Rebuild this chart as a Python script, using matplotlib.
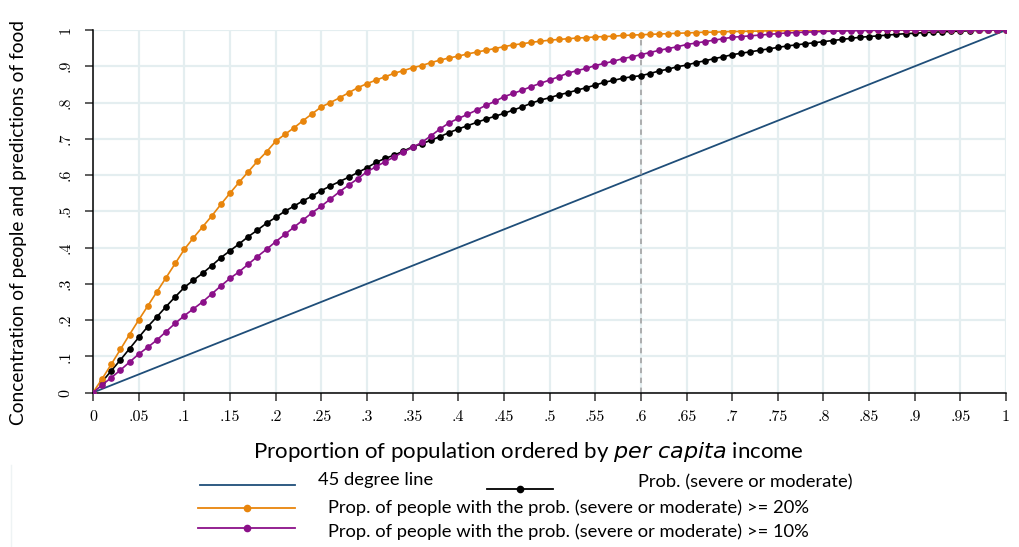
import numpy as np
import matplotlib.pyplot as plt
from matplotlib.lines import Line2D

# Udział populacji (oś x) co 0.01
x = np.round(np.arange(0, 1.001, 0.01), 2)

# Krzywa: odsetek osób z prawdopodobieństwem >= 20%
prop_20 = [0.0, 0.038, 0.078, 0.119, 0.160, 0.200, 0.239, 0.278, 0.317, 0.356,
           0.395, 0.427, 0.457, 0.487, 0.519, 0.550, 0.580, 0.609, 0.638, 0.664,
           0.693, 0.712, 0.730, 0.750, 0.769, 0.788, 0.800, 0.813, 0.827, 0.841,
           0.852, 0.862, 0.871, 0.881, 0.888, 0.896, 0.902, 0.910, 0.917, 0.923,
           0.928, 0.934, 0.939, 0.944, 0.949, 0.954, 0.959, 0.962, 0.966, 0.969,
           0.972, 0.974, 0.976, 0.978, 0.979, 0.981, 0.982, 0.983, 0.985, 0.986,
           0.987, 0.988, 0.989, 0.990, 0.991, 0.992, 0.993, 0.994, 0.994, 0.995,
           0.996, 0.996, 0.997, 0.997, 0.998, 0.998, 0.998, 0.999, 0.999, 0.999,
           1.0, 1.0, 1.0, 1.0, 1.0, 1.0, 1.0, 1.0, 1.0, 1.0,
           1.0, 1.0, 1.0, 1.0, 1.0, 1.0, 1.0, 1.0, 1.0, 1.0, 1.0]

# Krzywa: prawdopodobieństwo (ciężkie lub umiarkowane), od x = 0.01
prob = [0.030, 0.060, 0.090, 0.121, 0.152, 0.182, 0.209, 0.237, 0.264,
        0.290, 0.310, 0.329, 0.350, 0.372, 0.391, 0.410, 0.430, 0.448, 0.467,
        0.483, 0.500, 0.514, 0.529, 0.542, 0.557, 0.570, 0.582, 0.594, 0.607,
        0.620, 0.635, 0.646, 0.655, 0.666, 0.678, 0.686, 0.696, 0.706, 0.717,
        0.727, 0.736, 0.745, 0.754, 0.762, 0.770, 0.779, 0.788, 0.798, 0.807,
        0.813, 0.821, 0.827, 0.834, 0.841, 0.848, 0.856, 0.861, 0.867, 0.871,
        0.874, 0.880, 0.887, 0.892, 0.899, 0.903, 0.910, 0.915, 0.921, 0.926,
        0.932, 0.936, 0.940, 0.944, 0.948, 0.952, 0.956, 0.959, 0.962, 0.965,
        0.968, 0.971, 0.974, 0.977, 0.980, 0.982, 0.984, 0.986, 0.988, 0.990,
        0.991, 0.993, 0.994, 0.995, 0.996, 0.997, 0.998, 0.999, 0.999, 1.0, 1.0]

# Krzywa: odsetek osób z prawdopodobieństwem >= 10%
prop_10 = [0.0, 0.021, 0.041, 0.062, 0.084, 0.106, 0.125, 0.145, 0.168, 0.191,
           0.212, 0.231, 0.250, 0.272, 0.294, 0.315, 0.333, 0.354, 0.375, 0.395,
           0.416, 0.436, 0.456, 0.476, 0.496, 0.514, 0.534, 0.554, 0.572, 0.590,
           0.609, 0.623, 0.637, 0.650, 0.664, 0.676, 0.690, 0.708, 0.727, 0.744,
           0.756, 0.767, 0.779, 0.792, 0.803, 0.816, 0.825, 0.834, 0.844, 0.853,
           0.862, 0.871, 0.881, 0.888, 0.894, 0.902, 0.908, 0.914, 0.921, 0.926,
           0.932, 0.938, 0.944, 0.949, 0.954, 0.960, 0.964, 0.968, 0.972, 0.976,
           0.980, 0.982, 0.984, 0.986, 0.988, 0.990, 0.992, 0.993, 0.994, 0.995,
           0.996, 0.997, 0.997, 0.998, 0.998, 0.999, 0.999, 1.0, 1.0, 1.0,
           1.0, 1.0, 1.0, 1.0, 1.0, 1.0, 1.0, 1.0, 1.0, 1.0, 1.0]

x_ticks = np.round(np.arange(0, 1.001, 0.05), 2)
x_tick_labels = ['0', '.05', '.1', '.15', '.2', '.25', '.3', '.35', '.4', '.45', '.5',
                 '.55', '.6', '.65', '.7', '.75', '.8', '.85', '.9', '.95', '1']
y_ticks = np.round(np.arange(0, 1.001, 0.1), 1)
y_tick_labels = ['0', '.1', '.2', '.3', '.4', '.5', '.6', '.7', '.8', '.9', '1']
cut_x = 0.6

legend_labels = ['45 degree line', 'Prob. (severe or moderate)',
                 'Prop. of people with the prob. (severe or moderate) >= 20%',
                 'Prop. of people with the prob. (severe or moderate) >= 10%']

c_blue = '#1f4e79'
c_black = '#000000'
c_orange = '#e8850c'
c_purple = '#8b1089'
c_grid = '#e4eef0'

fig = plt.figure(figsize=(10.19, 5.47), dpi=100)
ax = fig.add_axes([0.0913, 0.2824, 0.896, 0.6627])

ax.set_xlim(0, 1)
ax.set_ylim(0, 1)
ax.set_xticks(x_ticks)
ax.set_yticks(y_ticks)
ax.grid(True, color=c_grid, linewidth=1.6, zorder=0)
ax.set_axisbelow(True)
for s in ['top', 'right']:
    ax.spines[s].set_visible(False)
for s in ['left', 'bottom']:
    ax.spines[s].set_linewidth(1.1)
ax.tick_params(direction='out', length=6, width=1.1, color='#333333')

ax.set_xticklabels(x_tick_labels, fontfamily='cmr10', fontsize=11.5)
ax.set_yticklabels(y_tick_labels, fontfamily='cmr10', fontsize=11.5, rotation=90, va='center')
ax.tick_params(axis='x', pad=7)
ax.tick_params(axis='y', pad=9)

# linia 45 stopni i pionowa linia odcięcia
ax.plot([0, 1], [0, 1], color=c_blue, linewidth=1.3, zorder=2)
ax.plot([cut_x, cut_x], [0, prop_20[int(cut_x * 100)]], color='#a8a8a8',
        linestyle=(0, (3, 2.5)), linewidth=1.3, zorder=2)

mk = dict(marker='o', markersize=3.8, linewidth=1.2)
ax.plot(x[1:], prob, color=c_black, zorder=3, **mk)
ax.plot(x, prop_20, color=c_orange, zorder=4, **mk)
ax.plot(x, prop_10, color=c_purple, zorder=5, **mk)

ax.set_ylabel('Concentration of people and predictions of food', fontfamily='Lato',
              fontsize=13.8)
ax.yaxis.set_label_coords(-0.072, 0.47)
ax.set_xlabel('Proportion of population ordered by $\\it{per\\ capita}$ income',
              fontfamily='Lato', fontsize=16)
ax.xaxis.set_label_coords(0.477, -0.13)

# legenda rysowana ręcznie pod wykresem
def px(xp, yp):
    return xp / 1019, 1 - yp / 547

def leg_line(x0, x1, y, color, marker):
    (a, b), (c, _) = px(x0, y), px(x1, y)
    fig.add_artist(Line2D([a, c], [b, b], color=color, linewidth=1.3))
    if marker:
        m = px((x0 + x1) / 2, y)
        fig.add_artist(Line2D([m[0]], [m[1]], color=color, marker='o', markersize=4.5))

leg_font = dict(fontfamily='Lato', fontsize=13.2, va='center', ha='left')
leg_line(200, 295, 485, c_blue, False)
fig.text(*px(318, 480), legend_labels[0], **leg_font)
leg_line(487, 553, 489, c_black, True)
fig.text(*px(638, 482), legend_labels[1], **leg_font)
leg_line(198, 295, 508, c_orange, True)
fig.text(*px(328, 508), legend_labels[2], **leg_font)
leg_line(198, 295, 528, c_purple, True)
fig.text(*px(328, 532), legend_labels[3], **leg_font)
fig.add_artist(Line2D([11 / 1019, 11 / 1019], [0, 1 - 465 / 547], color='#eef3f4', linewidth=1))

fig.savefig('out.png', dpi=100)
